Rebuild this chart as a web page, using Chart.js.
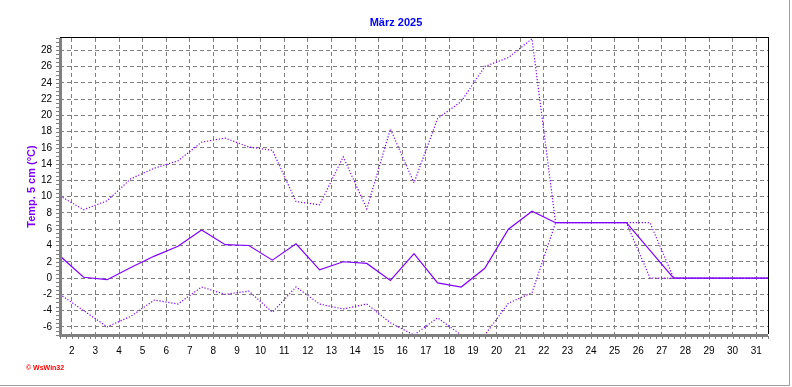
<!DOCTYPE html>
<html>
<head>
<meta charset="utf-8">
<script src="https://cdn.jsdelivr.net/npm/chart.js@4/dist/chart.umd.min.js"></script>
<style>
html,body{margin:0;padding:0;background:#fff;}
#wrap{position:relative;width:792px;height:387px;}
</style>
</head>
<body>
<div id="wrap"><canvas id="c" width="792" height="387"></canvas></div>
<script>
// ---- data ----
const days = [1,2,3,4,5,6,7,8,9,10,11,12,13,14,15,16,17,18,19,20,21,22,23,24,25,26,27,28,29,30,31];
const meanTemp = [2.7,0.1,-0.2,1.3,2.7,3.9,5.9,4.1,4.0,2.2,4.2,1.0,2.0,1.8,-0.3,3.0,-0.6,-1.1,1.2,6.0,8.2,6.8,6.8,6.8,6.8,3.4,0,0,0,0,0];
const maxTemp  = [10.1,8.4,9.5,12.2,13.5,14.4,16.7,17.2,16.1,15.7,9.4,9.0,14.9,8.5,18.3,11.7,19.6,21.7,26.0,27.1,29.4,6.8,6.8,6.8,6.8,6.8,0,0,0,0,0];
const minTemp  = [-2.0,-4.0,-6.0,-4.7,-2.7,-3.2,-1.1,-2.0,-1.6,-4.2,-1.1,-3.2,-3.8,-3.2,-5.5,-7.0,-4.9,-7.0,-7.0,-3.1,-1.8,6.8,6.8,6.8,6.8,0,0,0,0,0,0];
const xTickValues = [2,3,4,5,6,7,8,9,10,11,12,13,14,15,16,17,18,19,20,21,22,23,24,25,26,27,28,29,30,31];
const xTickLabels = ['2','3','4','5','6','7','8','9','10','11','12','13','14','15','16','17','18','19','20','21','22','23','24','25','26','27','28','29','30','31'];
const yTickValues = [-6,-4,-2,0,2,4,6,8,10,12,14,16,18,20,22,24,26,28];
const titleText = 'März 2025';
const yTitleText = 'Temp. 5 cm (°C)';
const creditText = '© WsWin32';

// ---- styling ----
const PURPLE = '#8000ff';
const GRID = '#808080';
const FONT = 'Liberation Sans, Arial, sans-serif';

const pts = arr => days.map((d, i) => ({x: d + 0.5, y: arr[i]}));

const framePlugin = {
  id: 'frame',
  afterDraw(chart) {
    const ctx = chart.ctx;
    const a = chart.chartArea;
    const xs = chart.scales.x, ys = chart.scales.y;
    ctx.save();
    ctx.setLineDash([]);
    // minor ticks x
    ctx.strokeStyle = GRID;
    ctx.lineWidth = 1;
    ctx.beginPath();
    for (let v = 1.5; v <= 31.5001; v += 0.25) {
      const px = Math.round(xs.getPixelForValue(v)) + 0.5;
      ctx.moveTo(px, a.bottom + 1);
      ctx.lineTo(px, a.bottom + 4);
    }
    // minor ticks y
    for (let v = -7; v <= 29.5001; v += 0.5) {
      const py = Math.round(ys.getPixelForValue(v)) + 0.5;
      ctx.moveTo(a.left - 4, py);
      ctx.lineTo(a.left - 1, py);
    }
    ctx.stroke();
    // axis lines
    ctx.fillStyle = GRID;
    ctx.fillRect(a.left - 1, a.top, 3, a.bottom - a.top + 2);
    ctx.fillRect(a.left - 1, a.bottom - 1, a.right - a.left + 1, 3);
    ctx.fillStyle = '#000';
    ctx.fillRect(a.left, a.top - 1, a.right - a.left + 1, 1);
    ctx.fillRect(a.right, a.top - 1, 1, a.bottom - a.top);
    // outer frame
    ctx.fillStyle = '#a0a0a0';
    ctx.fillRect(789, 0, 1, 386);
    ctx.fillRect(0, 385, 790, 1);
    // title
    ctx.fillStyle = '#0000ff';
    ctx.font = 'bold 11px ' + FONT;
    ctx.textAlign = 'center';
    ctx.textBaseline = 'middle';
    ctx.fillText(titleText, 396, 23);
    // credit
    ctx.fillStyle = '#ff0000';
    ctx.font = 'bold 7px ' + FONT;
    ctx.textAlign = 'left';
    ctx.fillText(creditText, 26, 368);
    ctx.restore();
  }
};

new Chart(document.getElementById('c'), {
  type: 'line',
  data: {
    datasets: [
      {label: 'Max', data: pts(maxTemp), borderColor: PURPLE, borderWidth: 1.2, borderDash: [1.2, 1.8], pointRadius: 0, tension: 0, fill: false},
      {label: 'Min', data: pts(minTemp), borderColor: PURPLE, borderWidth: 1.2, borderDash: [1.2, 1.8], pointRadius: 0, tension: 0, fill: false},
      {label: 'Mittel', data: pts(meanTemp), borderColor: PURPLE, borderWidth: 1.2, pointRadius: 0, tension: 0, fill: false}
    ]
  },
  options: {
    responsive: false,
    animation: false,
    devicePixelRatio: 1,
    layout: {padding: {left: 0, right: 24, top: 38, bottom: 22}},
    plugins: {
      legend: {display: false},
      tooltip: {enabled: false},
      title: {display: false}
    },
    scales: {
      x: {
        type: 'linear', min: 1.5, max: 31.5,
        afterBuildTicks: s => { s.ticks = xTickValues.map(v => ({value: v})); },
        afterFit: s => { s.height = 30; },
        ticks: {
          color: '#000', font: {family: FONT, size: 10}, padding: 10,
          maxRotation: 0, autoSkip: false,
          callback: (v) => { const i = xTickValues.indexOf(v); return i >= 0 ? xTickLabels[i] : ''; }
        },
        grid: {color: GRID, lineWidth: 1, drawTicks: false},
        border: {display: false, dash: [4, 3]}
      },
      y: {
        type: 'linear', min: -7, max: 29.5,
        afterBuildTicks: s => { s.ticks = yTickValues.map(v => ({value: v})); },
        afterFit: s => { s.width = 60; },
        ticks: {color: '#000', font: {family: FONT, size: 10}, padding: 8, autoSkip: false},
        grid: {color: GRID, lineWidth: 1, drawTicks: false},
        border: {display: false, dash: [4, 3]},
        title: {
          display: true, text: yTitleText, color: PURPLE,
          font: {family: FONT, size: 11, weight: 'bold'},
          padding: {top: 25, bottom: 0}
        }
      }
    }
  },
  plugins: [framePlugin]
});
</script>
</body>
</html>
